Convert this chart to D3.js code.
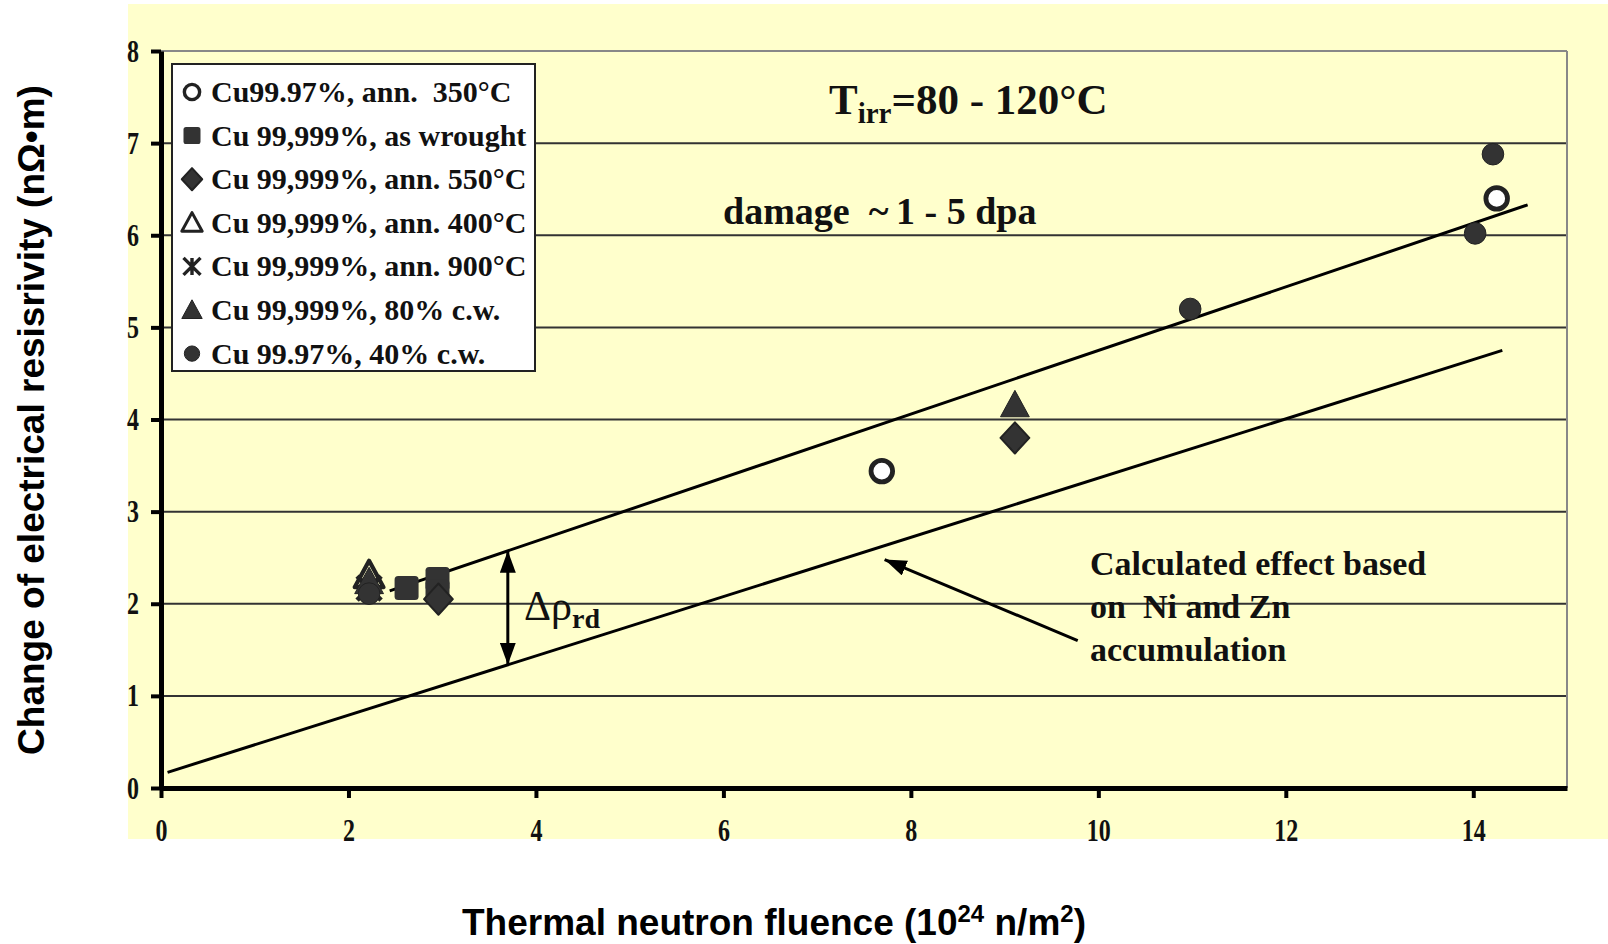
<!DOCTYPE html>
<html>
<head>
<meta charset="utf-8">
<script src="https://cdn.jsdelivr.net/npm/d3@7"></script>
<style>
  body { margin: 0; background: #fff; }
  svg { display: block; }
  .serif { font-family: "Liberation Serif", "Times New Roman", serif; font-weight: bold; }
  .sans { font-family: "Liberation Sans", Arial, sans-serif; font-weight: bold; }
</style>
</head>
<body>
<svg id="chart" width="1608" height="944"></svg>
<script>
// data
const xTicks = [0, 2, 4, 6, 8, 10, 12, 14];
const yTicks = [0, 1, 2, 3, 4, 5, 6, 7, 8];

const seriesNames = [
  'Cu99.97%, ann.  350°C',
  'Cu 99,999%, as wrought',
  'Cu 99,999%, ann. 550°C',
  'Cu 99,999%, ann. 400°C',
  'Cu 99,999%, ann. 900°C',
  'Cu 99,999%, 80% c.w.',
  'Cu 99.97%, 40% c.w.'
];
const seriesShapes = ['openCircle', 'square', 'diamond', 'openTriangle', 'star', 'triangle', 'circle'];

const ann350 = [[7.69, 3.44], [14.25, 6.40]];
const asWrought = [[2.62, 2.17], [2.95, 2.27], [2.95, 2.13]];
const ann550 = [[9.11, 3.80], [2.96, 2.05]];
const ann400 = [[2.22, 2.31]];
const ann900 = [[2.22, 2.17]];
const cw80 = [[9.11, 4.16], [2.22, 2.24]];
const cw40 = [[10.98, 5.20], [14.02, 6.02], [14.21, 6.88], [2.22, 2.11]];
const seriesData = [ann350, asWrought, ann550, ann400, ann900, cw80, cw40];

const upperLine = [[2.44, 2.14], [14.58, 6.33]];
const lowerLine = [[0.07, 0.17], [14.31, 4.75]];
const deltaArrowX = 3.7;
const calcArrow = [[9.78, 1.60], [7.72, 2.48]];

const svg = d3.select('#chart');
const x = d3.scaleLinear().domain([0, 15]).range([161, 1567]);
const y = d3.scaleLinear().domain([0, 8]).range([788, 51]);

svg.append('rect').attr('x', 128).attr('y', 4).attr('width', 1480).attr('height', 835).attr('fill', '#ffffcc');

const defs = svg.append('defs');
defs.append('marker').attr('id', 'bighead').attr('viewBox', '0 0 10 10')
  .attr('refX', 10).attr('refY', 5).attr('markerWidth', 22).attr('markerHeight', 16)
  .attr('markerUnits', 'userSpaceOnUse').attr('orient', 'auto-start-reverse').attr('preserveAspectRatio', 'none')
  .append('path').attr('d', 'M0,0L10,5L0,10Z').attr('fill', '#000');

// grid
svg.append('g').selectAll('line').data(yTicks.filter(d => d > 0)).enter().append('line')
  .attr('x1', x(0)).attr('x2', x(15)).attr('y1', d => y(d)).attr('y2', d => y(d))
  .attr('stroke', d => d === 8 ? '#888' : '#333').attr('stroke-width', 2);
svg.append('line').attr('x1', x(15)).attr('x2', x(15)).attr('y1', y(8)).attr('y2', y(0))
  .attr('stroke', '#888').attr('stroke-width', 2);

// axes
const yAxis = svg.append('g').attr('transform', `translate(${x(0)},0)`)
  .call(d3.axisLeft(y).tickValues(yTicks).tickSize(10).tickSizeOuter(0).tickPadding(12));
const xAxis = svg.append('g').attr('transform', `translate(0,${y(0)})`)
  .call(d3.axisBottom(x).tickValues(xTicks).tickSize(10).tickSizeOuter(0));
[xAxis, yAxis].forEach(g => {
  g.attr('font-size', null).attr('font-family', null);
  g.select('.domain').attr('stroke', '#000').attr('stroke-width', 5);
  g.selectAll('.tick line').attr('stroke', '#000').attr('stroke-width', 4);
  g.selectAll('.tick text').attr('class', 'serif').style('font-size', '24px').attr('fill', '#111');
});
// the labels in the picture are drawn taller than wide
yAxis.selectAll('.tick text').attr('transform', 'scale(1,1.3)');
xAxis.selectAll('.tick text').attr('y', 0).attr('dy', '0.71em').attr('transform', 'translate(0,31) scale(1,1.3)');

// fit lines
const line = d3.line().x(d => x(d[0])).y(d => y(d[1]));
svg.append('path').attr('d', line(upperLine)).attr('stroke', '#000').attr('stroke-width', 3).attr('fill', 'none');
svg.append('path').attr('d', line(lowerLine)).attr('stroke', '#000').attr('stroke-width', 3).attr('fill', 'none');

// delta arrow between the two lines
const upAt = upperLine[0][1] + (deltaArrowX - upperLine[0][0]) * (upperLine[1][1] - upperLine[0][1]) / (upperLine[1][0] - upperLine[0][0]);
const loAt = lowerLine[0][1] + (deltaArrowX - lowerLine[0][0]) * (lowerLine[1][1] - lowerLine[0][1]) / (lowerLine[1][0] - lowerLine[0][0]);
svg.append('line').attr('x1', x(deltaArrowX)).attr('x2', x(deltaArrowX))
  .attr('y1', y(upAt)).attr('y2', y(loAt)).attr('stroke', '#000').attr('stroke-width', 3)
  .attr('marker-start', 'url(#bighead)').attr('marker-end', 'url(#bighead)');

svg.append('line').attr('x1', x(calcArrow[0][0])).attr('y1', y(calcArrow[0][1]))
  .attr('x2', x(calcArrow[1][0])).attr('y2', y(calcArrow[1][1]))
  .attr('stroke', '#000').attr('stroke-width', 3).attr('marker-end', 'url(#bighead)');

// markers
function drawShape(g, shape, s) {
  const fill = '#333', stroke = '#222';
  if (shape === 'openCircle' || shape === 'circle') {
    g.append('circle').attr('r', 9 * s).attr('fill', shape === 'circle' ? fill : '#fff')
      .attr('stroke', stroke).attr('stroke-width', shape === 'circle' ? 1 : 4 * s);
  } else if (shape === 'square') {
    g.append('rect').attr('x', -10 * s).attr('y', -10 * s).attr('width', 20 * s).attr('height', 20 * s)
      .attr('rx', 3 * s).attr('fill', fill);
  } else if (shape === 'diamond') {
    g.append('path').attr('d', `M0,${-13 * s}L${12 * s},0L0,${13 * s}L${-12 * s},0Z`).attr('fill', fill)
      .attr('stroke', stroke).attr('stroke-linejoin', 'round').attr('stroke-width', 2);
  } else if (shape === 'triangle' || shape === 'openTriangle') {
    g.append('path').attr('d', `M0,${-12 * s}L${12 * s},${10 * s}L${-12 * s},${10 * s}Z`)
      .attr('fill', shape === 'triangle' ? fill : 'none').attr('stroke', stroke)
      .attr('stroke-width', shape === 'triangle' ? 1 : 3.5 * s).attr('stroke-linejoin', 'round');
  } else if (shape === 'star') {
    const r = 10 * s;
    g.append('path').attr('d', `M${-r},${-r}L${r},${r}M${r},${-r}L${-r},${r}M0,${-r}L0,${r}`)
      .attr('stroke', stroke).attr('stroke-width', 4 * s).attr('fill', 'none');
  }
}

seriesData.forEach((pts, i) => {
  svg.append('g').selectAll('g').data(pts).enter().append('g')
    .attr('transform', d => `translate(${x(d[0])},${y(d[1])})`)
    .each(function() { drawShape(d3.select(this), seriesShapes[i], 1.2); });
});

// legend
const legend = svg.append('g').attr('transform', 'translate(172,64)');
legend.append('rect').attr('width', 363).attr('height', 307).attr('fill', '#fff')
  .attr('stroke', '#222').attr('stroke-width', 2);
seriesNames.forEach((name, i) => {
  const row = legend.append('g').attr('transform', `translate(0,${28 + i * 43.6})`);
  drawShape(row.append('g').attr('transform', 'translate(20,0)'), seriesShapes[i], 0.85);
  row.append('text').attr('class', 'serif').attr('x', 39).attr('y', 10).attr('xml:space', 'preserve')
    .attr('font-size', 30).attr('fill', '#111').text(name);
});

// annotations
const title = svg.append('text').attr('class', 'serif').attr('x', 829).attr('y', 114)
  .attr('font-size', 43).attr('fill', '#111');
title.append('tspan').text('T');
title.append('tspan').attr('font-size', 29).attr('dy', 9).text('irr');
title.append('tspan').attr('dy', -9).text('=80 - 120°C');

svg.append('text').attr('class', 'serif').attr('x', 723).attr('y', 224)
  .attr('font-size', 38).attr('fill', '#111').attr('xml:space', 'preserve').text('damage  ~\u20091 - 5 dpa');

const dr = svg.append('text').attr('x', 524).attr('y', 620)
  .style('font-family', '"Liberation Serif", serif').attr('font-size', 42).attr('fill', '#111');
dr.append('tspan').text('Δρ');
dr.append('tspan').attr('font-size', 28).attr('font-weight', 'bold').attr('dy', 8).text('rd');

['Calculated effect based', 'on  Ni and Zn', 'accumulation'].forEach((t, i) => {
  svg.append('text').attr('class', 'serif').attr('x', 1090).attr('y', 575 + i * 43)
    .attr('font-size', 34).attr('fill', '#111').attr('xml:space', 'preserve').text(t);
});

// axis titles
svg.append('text').attr('class', 'sans').attr('transform', 'translate(44,420) rotate(-90)')
  .attr('text-anchor', 'middle').attr('font-size', 37).attr('fill', '#000')
  .text('Change of electrical resisrivity (nΩ•m)');

const xt = svg.append('text').attr('class', 'sans').attr('x', 774).attr('y', 935)
  .attr('text-anchor', 'middle').attr('font-size', 37).attr('fill', '#000');
xt.append('tspan').text('Thermal neutron fluence (10');
xt.append('tspan').attr('font-size', 24).attr('dy', -13).text('24');
xt.append('tspan').attr('dy', 13).text(' n/m');
xt.append('tspan').attr('font-size', 24).attr('dy', -13).text('2');
xt.append('tspan').attr('dy', 13).text(')');
</script>
</body>
</html>
